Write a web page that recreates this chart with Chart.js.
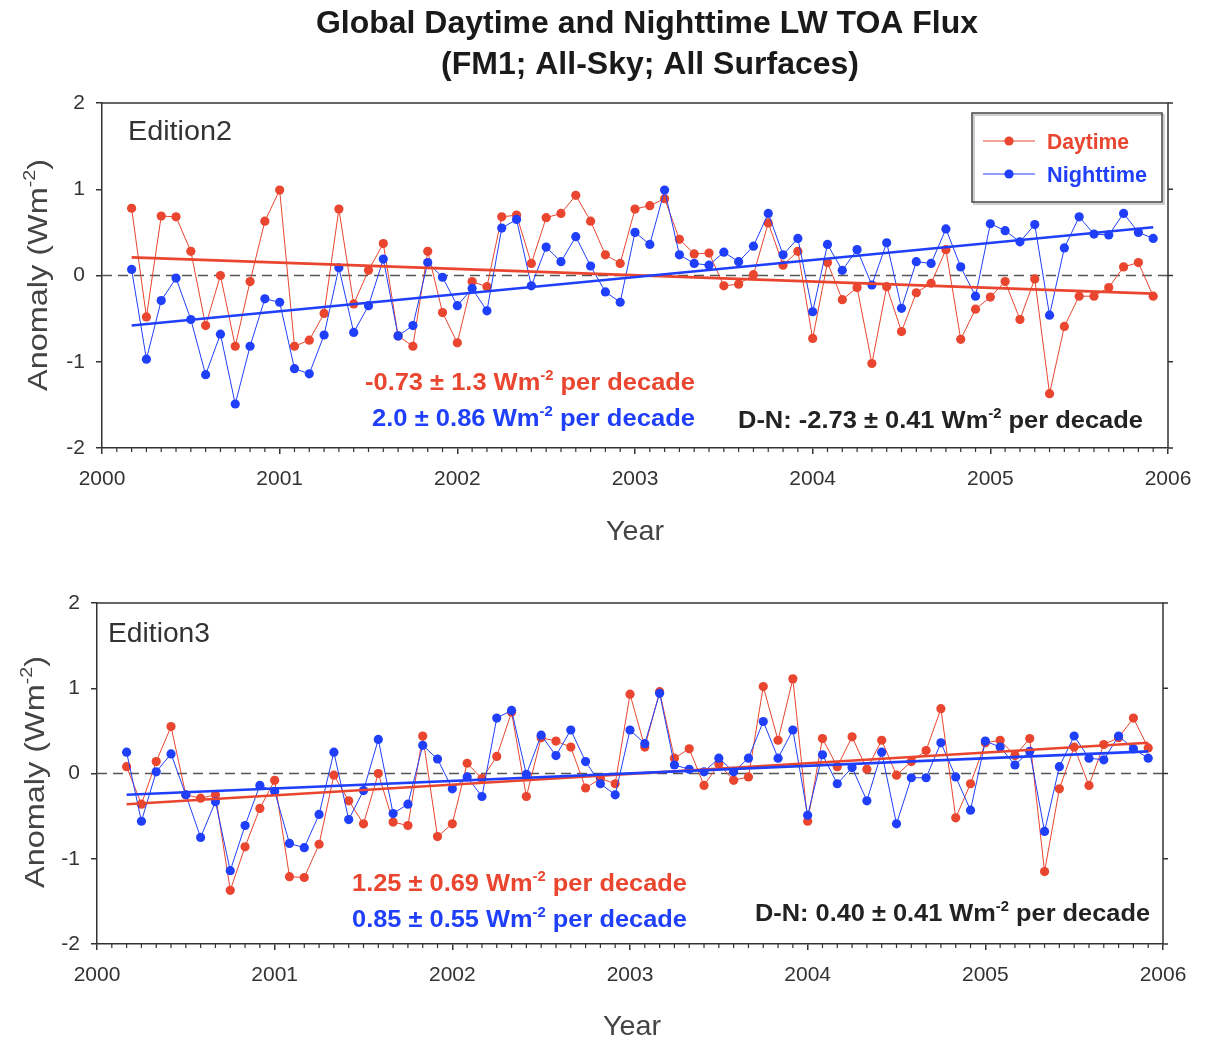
<!DOCTYPE html>
<html>
<head>
<meta charset="utf-8">
<script src="https://cdn.jsdelivr.net/npm/chart.js@4.4.1/dist/chart.umd.min.js"></script>
<style>
  body { margin: 0; background: #fff; }
  #wrap { position: relative; width: 1208px; height: 1040px; }
  canvas { position: absolute; left: 0; }
</style>
</head>
<body>
<div id="wrap">
  <canvas id="ed2" width="1208" height="560" style="top:0px"></canvas>
  <canvas id="ed3" width="1208" height="480" style="top:560px"></canvas>
</div>
<script>
// monthly anomalies, Mar 2000 .. Dec 2005 (70 months)
const startYear = 2000, startMonth = 2;
const yearTicks = [2000, 2001, 2002, 2003, 2004, 2005, 2006];

const ed2Day = [0.78, -0.48, 0.69, 0.68, 0.28, -0.58, 0.00, -0.82, -0.07, 0.63,
  0.99, -0.82, -0.75, -0.44, 0.77, -0.33, 0.06, 0.37, -0.70, -0.82,
  0.28, -0.43, -0.78, -0.07, -0.13, 0.68, 0.70, 0.14, 0.67, 0.72,
  0.93, 0.63, 0.24, 0.14, 0.77, 0.81, 0.89, 0.42, 0.25, 0.26,
  -0.12, -0.10, 0.01, 0.61, 0.12, 0.28, -0.73, 0.15, -0.28, -0.14,
  -1.02, -0.13, -0.65, -0.20, -0.09, 0.30, -0.74, -0.39, -0.25, -0.07,
  -0.51, -0.04, -1.37, -0.59, -0.24, -0.24, -0.14, 0.10, 0.15, -0.24];
const ed2Night = [0.07, -0.97, -0.29, -0.03, -0.51, -1.15, -0.68, -1.49, -0.82, -0.27,
  -0.31, -1.08, -1.14, -0.69, 0.09, -0.66, -0.35, 0.19, -0.70, -0.58,
  0.15, -0.02, -0.35, -0.15, -0.41, 0.55, 0.65, -0.12, 0.33, 0.16,
  0.45, 0.11, -0.19, -0.31, 0.50, 0.36, 0.99, 0.24, 0.14, 0.12,
  0.27, 0.16, 0.34, 0.72, 0.24, 0.43, -0.42, 0.36, 0.06, 0.30,
  -0.11, 0.38, -0.38, 0.16, 0.14, 0.54, 0.10, -0.24, 0.60, 0.52,
  0.39, 0.59, -0.46, 0.32, 0.68, 0.48, 0.47, 0.72, 0.50, 0.43];
const ed3Day = [0.08, -0.36, 0.14, 0.55, -0.25, -0.29, -0.25, -1.37, -0.86, -0.41,
  -0.08, -1.21, -1.22, -0.83, -0.02, -0.32, -0.59, 0.00, -0.57, -0.61,
  0.44, -0.74, -0.59, 0.12, -0.06, 0.20, 0.72, -0.27, 0.42, 0.38,
  0.31, -0.17, -0.06, -0.12, 0.93, 0.31, 0.96, 0.18, 0.29, -0.14,
  0.11, -0.08, -0.04, 1.02, 0.39, 1.11, -0.56, 0.41, 0.08, 0.43,
  0.05, 0.39, -0.02, 0.14, 0.27, 0.76, -0.52, -0.12, 0.36, 0.39,
  0.21, 0.41, -1.15, -0.18, 0.31, -0.14, 0.34, 0.42, 0.65, 0.30];
const ed3Night = [0.25, -0.56, 0.02, 0.23, -0.25, -0.75, -0.33, -1.14, -0.61, -0.14,
  -0.21, -0.82, -0.87, -0.48, 0.25, -0.54, -0.20, 0.40, -0.47, -0.36,
  0.33, 0.17, -0.18, -0.04, -0.27, 0.65, 0.74, -0.01, 0.45, 0.21,
  0.51, 0.14, -0.12, -0.25, 0.51, 0.35, 0.94, 0.10, 0.05, 0.02,
  0.18, 0.02, 0.18, 0.61, 0.18, 0.51, -0.49, 0.22, -0.12, 0.07,
  -0.32, 0.25, -0.59, -0.05, -0.05, 0.36, -0.04, -0.43, 0.38, 0.31,
  0.10, 0.26, -0.68, 0.08, 0.44, 0.18, 0.16, 0.44, 0.29, 0.18];

// linear trend, value at first and last month
const ed2DayTrend = [0.21, -0.21];
const ed2NightTrend = [-0.58, 0.56];
const ed3DayTrend = [-0.36, 0.36];
const ed3NightTrend = [-0.25, 0.26];

const months = ed2Day.map((_, i) => startYear + (startMonth + i) / 12);

const RED = '#e9452f';
const BLUE = '#1f3ffb';
const FONT = '"Liberation Sans", Arial, sans-serif';

// text pieces: plain strings, or {s: '...'} for a superscript; y = middle of the capitals
function drawRich(ctx, parts, x, y, o) {
  const size = o.size;
  const w8 = o.bold ? 'bold ' : '';
  const fMain = w8 + size + 'px ' + FONT;
  const fSup = w8 + Math.round(size * 0.6) + 'px ' + FONT;
  const pieces = parts.map(p => typeof p === 'string' ? { t: p, up: false } : { t: p.s, up: true });
  let w = 0;
  pieces.forEach(p => { ctx.font = p.up ? fSup : fMain; w += ctx.measureText(p.t).width; });
  const sx = o.width ? o.width / w : 1;
  ctx.save();
  ctx.translate(x, y);
  if (o.rotate) ctx.rotate(o.rotate);
  ctx.scale(sx, 1);
  let cx = o.align === 'right' ? -w : (o.align === 'center' ? -w / 2 : 0);
  ctx.fillStyle = o.color || '#222';
  ctx.textBaseline = 'alphabetic';
  const base = size * 0.36;
  pieces.forEach(p => {
    ctx.font = p.up ? fSup : fMain;
    ctx.fillText(p.t, cx, p.up ? base - size * 0.42 : base);
    cx += ctx.measureText(p.t).width;
  });
  ctx.restore();
}

const decorPlugin = {
  id: 'decor',
  beforeDatasetsDraw(chart, args, opts) {
    const ctx = chart.ctx, a = chart.chartArea;
    const xs = chart.scales.x, ys = chart.scales.y;
    ctx.save();
    // dashed zero line
    ctx.strokeStyle = '#555';
    ctx.lineWidth = 1.5;
    ctx.setLineDash([10, 6]);
    ctx.beginPath();
    ctx.moveTo(a.left, ys.getPixelForValue(0));
    ctx.lineTo(a.right, ys.getPixelForValue(0));
    ctx.stroke();
    ctx.setLineDash([]);
    // top and right frame
    ctx.strokeStyle = '#333';
    ctx.beginPath();
    ctx.moveTo(a.left, a.top);
    ctx.lineTo(a.right, a.top);
    ctx.lineTo(a.right, a.bottom);
    ctx.stroke();
    // monthly minor ticks
    ctx.lineWidth = 1.2;
    for (let m = 1; m < 72; m++) {
      if (m % 12 === 0) continue;
      const px = xs.getPixelForValue(startYear + m / 12);
      ctx.beginPath();
      ctx.moveTo(px, a.bottom);
      ctx.lineTo(px, a.bottom + 4);
      ctx.stroke();
    }
    // right axis ticks
    ctx.lineWidth = 1.5;
    for (let v = -2; v <= 2; v++) {
      const py = ys.getPixelForValue(v);
      ctx.beginPath();
      ctx.moveTo(a.right, py);
      ctx.lineTo(a.right + 5, py);
      ctx.stroke();
    }
    ctx.restore();
  },
  afterDraw(chart, args, opts) {
    const ctx = chart.ctx;
    (opts.texts || []).forEach(t => drawRich(ctx, t.parts, t.x, t.y, t));
    const lg = opts.legend;
    if (lg) {
      ctx.save();
      ctx.strokeStyle = '#cfcfcf';
      ctx.lineWidth = 2;
      ctx.strokeRect(lg.x + 2, lg.y + 2, lg.w, lg.h);
      ctx.strokeStyle = '#444';
      ctx.lineWidth = 1.5;
      ctx.strokeRect(lg.x, lg.y, lg.w, lg.h);
      lg.items.forEach((it, i) => {
        const yy = lg.y + 28 + i * 33;
        ctx.strokeStyle = it.color;
        ctx.fillStyle = it.color;
        ctx.lineWidth = 1;
        ctx.beginPath();
        ctx.moveTo(lg.x + 11, yy);
        ctx.lineTo(lg.x + 63, yy);
        ctx.stroke();
        ctx.beginPath();
        ctx.arc(lg.x + 37, yy, 4.6, 0, Math.PI * 2);
        ctx.fill();
        drawRich(ctx, [it.label], lg.x + 75, yy, { size: 22, bold: true, color: it.color, width: it.width });
      });
      ctx.restore();
    }
  }
};

function series(label, values, color) {
  return {
    label: label,
    data: values.map((v, i) => ({ x: months[i], y: v })),
    borderColor: color,
    backgroundColor: color,
    borderWidth: 1,
    pointRadius: 4.6,
    pointBorderWidth: 0,
    pointBackgroundColor: color,
    tension: 0
  };
}

function trend(ends, color) {
  return {
    data: [{ x: months[0], y: ends[0] }, { x: months[months.length - 1], y: ends[1] }],
    borderColor: color,
    borderWidth: 2.6,
    pointRadius: 0,
    tension: 0
  };
}

function axisStyle() {
  return {
    grid: { drawOnChartArea: false, drawTicks: true, tickLength: 6, color: '#333', lineWidth: 1.5 },
    border: { display: true, color: '#333', width: 1.5 }
  };
}

function makeChart(id, day, night, dayTrend, nightTrend, deco) {
  return new Chart(document.getElementById(id), {
    type: 'line',
    data: {
      datasets: [
        trend(nightTrend, BLUE),
        trend(dayTrend, RED),
        series('Nighttime', night, BLUE),
        series('Daytime', day, RED)
      ]
    },
    options: {
      responsive: false,
      animation: false,
      layout: { padding: deco.padding },
      plugins: { legend: { display: false }, tooltip: { enabled: false }, decor: deco },
      scales: {
        x: Object.assign(axisStyle(), {
          type: 'linear',
          min: yearTicks[0],
          max: yearTicks[yearTicks.length - 1],
          afterFit: s => { s.height = deco.xAxisHeight; },
          afterBuildTicks: s => { s.ticks = yearTicks.map(v => ({ value: v })); },
          ticks: {
            callback: v => String(v),
            font: { size: 21, family: FONT },
            color: '#333',
            padding: 13,
            maxRotation: 0,
            autoSkip: false
          }
        }),
        y: Object.assign(axisStyle(), {
          min: -2,
          max: 2,
          afterFit: s => { s.width = deco.yAxisWidth; },
          ticks: {
            stepSize: 1,
            font: { size: 21, family: FONT },
            color: '#333',
            padding: 11
          }
        })
      }
    },
    plugins: [decorPlugin]
  });
}

const SUP = { s: '-2' };

makeChart('ed2', ed2Day, ed2Night, ed2DayTrend, ed2NightTrend, {
  padding: { top: 103, right: 40, left: 0, bottom: 0 },
  yAxisWidth: 102,
  xAxisHeight: 112,
  texts: [
    { parts: ['Global Daytime and Nighttime LW TOA Flux'], x: 647, y: 22, size: 31, bold: true, align: 'center', width: 662, color: '#1a1a1a' },
    { parts: ['(FM1; All-Sky; All Surfaces)'], x: 650, y: 63, size: 31, bold: true, align: 'center', width: 418, color: '#1a1a1a' },
    { parts: ['Edition2'], x: 128, y: 130, size: 27, width: 104, color: '#333' },
    { parts: ['-0.73 \u00b1 1.3 Wm', SUP, ' per decade'], x: 695, y: 381, size: 24, bold: true, align: 'right', width: 330, color: RED },
    { parts: ['2.0 \u00b1 0.86 Wm', SUP, ' per decade'], x: 695, y: 417, size: 24, bold: true, align: 'right', width: 323, color: BLUE },
    { parts: ['D-N: -2.73 \u00b1 0.41 Wm', SUP, ' per decade'], x: 738, y: 419, size: 24, bold: true, width: 405, color: '#222' },
    { parts: ['Anomaly (Wm', SUP, ')'], x: 37, y: 275, size: 28, align: 'center', rotate: -Math.PI / 2, width: 232, color: '#444' },
    { parts: ['Year'], x: 635, y: 530, size: 28, align: 'center', width: 58, color: '#444' }
  ],
  legend: {
    x: 972, y: 113, w: 190, h: 89,
    items: [
      { label: 'Daytime', color: RED, width: 82 },
      { label: 'Nighttime', color: BLUE, width: 100 }
    ]
  }
});

makeChart('ed3', ed3Day, ed3Night, ed3DayTrend, ed3NightTrend, {
  padding: { top: 43, right: 45, left: 0, bottom: 0 },
  yAxisWidth: 97,
  xAxisHeight: 96,
  texts: [
    { parts: ['Edition3'], x: 108, y: 72, size: 27, width: 102, color: '#333' },
    { parts: ['1.25 \u00b1 0.69 Wm', SUP, ' per decade'], x: 687, y: 322, size: 24, bold: true, align: 'right', width: 335, color: RED },
    { parts: ['0.85 \u00b1 0.55 Wm', SUP, ' per decade'], x: 687, y: 358, size: 24, bold: true, align: 'right', width: 335, color: BLUE },
    { parts: ['D-N: 0.40 \u00b1 0.41 Wm', SUP, ' per decade'], x: 755, y: 352, size: 24, bold: true, width: 395, color: '#222' },
    { parts: ['Anomaly (Wm', SUP, ')'], x: 34, y: 212, size: 28, align: 'center', rotate: -Math.PI / 2, width: 232, color: '#444' },
    { parts: ['Year'], x: 632, y: 465, size: 28, align: 'center', width: 58, color: '#444' }
  ]
});
</script>
</body>
</html>
